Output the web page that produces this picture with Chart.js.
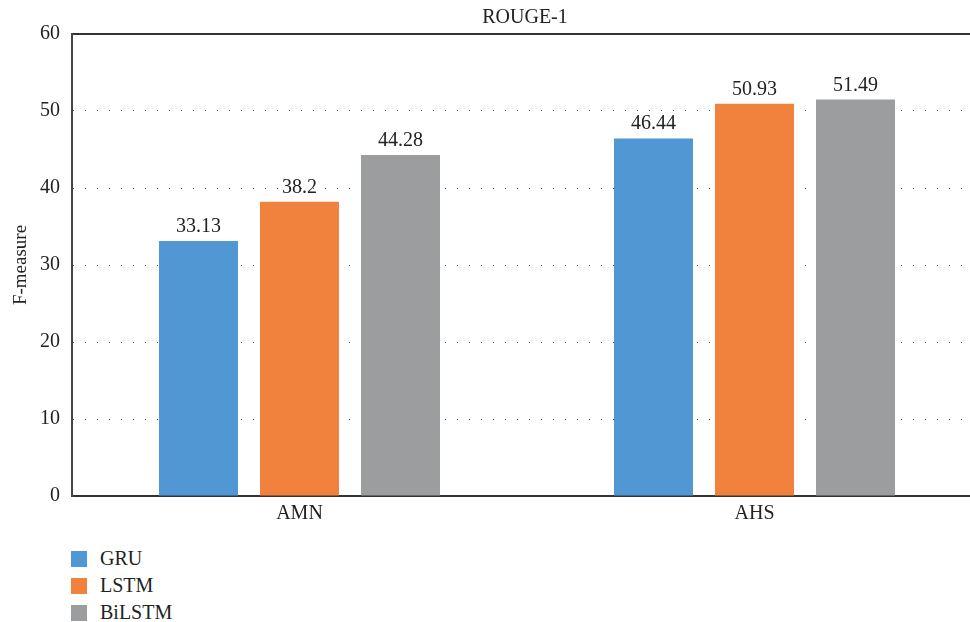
<!DOCTYPE html>
<html>
<head>
<meta charset="utf-8">
<script src="https://cdn.jsdelivr.net/npm/chart.js@4"></script>
<style>
  html, body { margin: 0; padding: 0; background: #fff; overflow: hidden; }
  body { width: 970px; height: 622px; position: relative; font-family: "Liberation Serif", "DejaVu Serif", serif; color: #222; }
  #wrap { position: absolute; left: 0; top: 0; width: 984px; height: 532px; }
  #title { position: absolute; top: 5px; left: 525px; transform: translateX(-50%); font-size: 20px; white-space: nowrap; }
  #legend { position: absolute; left: 71px; top: 545px; }
  .item { display: flex; align-items: center; height: 27px; font-size: 20px; }
  .box { width: 16px; height: 16px; margin-right: 13px; }
</style>
</head>
<body>
<div id="wrap"><canvas id="c"></canvas></div>
<div id="title">ROUGE-1</div>
<div id="legend"></div>
<script>
const categories = ['AMN', 'AHS'];
const seriesNames = ['GRU', 'LSTM', 'BiLSTM'];
const gruValues = [33.13, 46.44];
const lstmValues = [38.2, 50.93];
const bilstmValues = [44.28, 51.49];
const yTicks = [0, 10, 20, 30, 40, 50, 60];
const seriesColors = ['#5097D3', '#F1823D', '#9C9D9F'];

const FONT = '"Liberation Serif", "DejaVu Serif", serif';

// value labels above each bar
const valueLabels = {
  id: 'valueLabels',
  afterDatasetsDraw(chart) {
    const ctx = chart.ctx;
    ctx.save();
    ctx.font = '20px ' + FONT;
    ctx.fillStyle = '#222';
    ctx.textAlign = 'center';
    ctx.textBaseline = 'alphabetic';
    chart.data.datasets.forEach((ds, i) => {
      chart.getDatasetMeta(i).data.forEach((bar, j) => {
        ctx.fillText(String(ds.data[j]), bar.x, bar.y - 9);
      });
    });
    ctx.restore();
  }
};

const chart = new Chart(document.getElementById('c'), {
  type: 'bar',
  data: {
    labels: categories,
    datasets: [
      { label: seriesNames[0], data: gruValues, backgroundColor: seriesColors[0] },
      { label: seriesNames[1], data: lstmValues, backgroundColor: seriesColors[1] },
      { label: seriesNames[2], data: bilstmValues, backgroundColor: seriesColors[2] }
    ]
  },
  options: {
    responsive: true,
    maintainAspectRatio: false,
    animation: false,
    layout: { padding: { left: 0, top: 34, right: 2, bottom: 0 } },
    datasets: { bar: { categoryPercentage: 0.666, barPercentage: 0.782 } },
    plugins: {
      legend: { display: false },
      title: { display: false },
      tooltip: { enabled: false }
    },
    scales: {
      x: {
        grid: { display: false, drawTicks: false },
        border: { display: true, color: '#333', width: 2 },
        ticks: { color: '#222', font: { family: FONT, size: 20 }, padding: 6 }
      },
      xTop: {
        position: 'top',
        labels: categories,
        grid: { display: false, drawTicks: false },
        border: { display: true, color: '#333', width: 2 },
        ticks: { display: false }
      },
      y: {
        min: 0,
        max: 60,
        afterBuildTicks(scale) { scale.ticks = yTicks.map(v => ({ value: v })); },
        afterFit(scale) { scale.width = 72; },
        grid: {
          drawTicks: false,
          color: c => (c.tick && (c.tick.value === 0 || c.tick.value === 60)) ? 'rgba(0,0,0,0)' : '#555',
          lineWidth: 1
        },
        border: { display: true, color: '#444', width: 2, dash: [1, 11] },
        ticks: { color: '#222', font: { family: FONT, size: 20 }, padding: 12 },
        title: {
          display: true,
          text: 'F-measure',
          color: '#222',
          font: { family: FONT, size: 19 },
          padding: { top: 9.5, bottom: 0 }
        }
      }
    }
  },
  plugins: [valueLabels]
});

// vertical legend built from the datasets
const legend = document.getElementById('legend');
chart.data.datasets.forEach(ds => {
  const item = document.createElement('div');
  item.className = 'item';
  const box = document.createElement('div');
  box.className = 'box';
  box.style.background = ds.backgroundColor;
  const txt = document.createElement('span');
  txt.textContent = ds.label;
  item.appendChild(box);
  item.appendChild(txt);
  legend.appendChild(item);
});
</script>
</body>
</html>
